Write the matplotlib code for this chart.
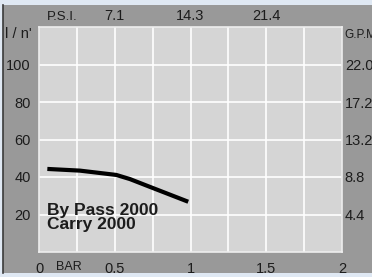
import matplotlib.pyplot as plt
from matplotlib.patches import Rectangle
from matplotlib.lines import Line2D

plt.rcParams['font.family'] = ['Liberation Sans', 'DejaVu Sans']

# pump curve
pressure_bar = [0.055, 0.27, 0.51, 0.60, 0.73, 0.985]
flow_lmin = [44.3, 43.4, 41.1, 38.9, 34.8, 26.8]

bar_ticks = [0, 0.5, 1, 1.5, 2]
bar_labels = ['0', '0.5', '1', '1.5', '2']
psi_ticks = [0.5, 1, 1.5]
psi_labels = ['7.1', '14.3', '21.4']
flow_ticks = [20, 40, 60, 80, 100]
gpm_labels = ['4.4', '8.8', '13.2', '17.2', '22.0']
series_label = 'By Pass 2000\nCarry 2000'

text_col = '#1c1c1c'
outer_col = '#999999'
plot_col = '#d5d5d5'

fig = plt.figure(figsize=(3.72, 2.77), dpi=100)
fig.patch.set_facecolor('#dfe8f3')

# scanned grey card behind the chart
fig.patches.append(Rectangle((3 / 372, 4 / 277), 1.0, 268 / 277, transform=fig.transFigure,
                             facecolor=outer_col, edgecolor='none', zorder=-10))
fig.lines.append(Line2D([3 / 372, 3 / 372], [4 / 277, 272 / 277], transform=fig.transFigure,
                        color='#3a3a3a', lw=1.2, zorder=-9))

ax = fig.add_axes([39 / 372, 1 - 252 / 277, 303 / 372, 225 / 277])
ax.set_facecolor(plot_col)
ax.set_xlim(0, 2)
ax.set_ylim(0, 120)

for x in [0.25 * i for i in range(1, 8)]:
    ax.axvline(x, color='white', lw=1.2, zorder=1)
for y in [20, 40, 60, 80, 100]:
    ax.axhline(y, color='white', lw=1.2, zorder=1)
for s in ax.spines.values():
    s.set_color('#eeeeee')
    s.set_linewidth(1.2)

ax.plot(pressure_bar, flow_lmin, color='black', lw=3, solid_capstyle='butt', zorder=3)

ax.set_xticks(bar_ticks, bar_labels)
ax.set_yticks(flow_ticks, [str(v) for v in flow_ticks])
ax.tick_params(axis='x', length=0, pad=7.5, labelsize=10.5, labelcolor=text_col)
ax.tick_params(axis='y', length=0, pad=6, labelsize=10.5, labelcolor=text_col)

top = ax.secondary_xaxis('top')
top.set_xticks(psi_ticks, psi_labels)
top.tick_params(length=0, pad=3, labelsize=10.5, labelcolor=text_col)
top.spines['top'].set_visible(False)

right = ax.secondary_yaxis('right')
right.set_yticks(flow_ticks, gpm_labels)
right.tick_params(length=0, pad=2, labelsize=10.5, labelcolor=text_col)
right.spines['right'].set_visible(False)

ax.text(0.055, 10.5, series_label, fontsize=12.5, fontweight='bold', color=text_col,
        linespacing=0.92, va='bottom', ha='left', zorder=4)

fig.text(62 / 372, 1 - 17 / 277, 'P.S.I.', fontsize=9.5, color=text_col, ha='center', va='center')
fig.text(5 / 372, 1 - 34 / 277, "l / n'", fontsize=10.5, color=text_col, ha='left', va='center')
fig.text(344 / 372, 1 - 35 / 277, 'G.P.M', fontsize=8.5, color=text_col, ha='left', va='center')
fig.text(69 / 372, 1 - 267 / 277, 'BAR', fontsize=9, color=text_col, ha='center', va='center')

fig.savefig('out.png', dpi=100, facecolor=fig.get_facecolor())
